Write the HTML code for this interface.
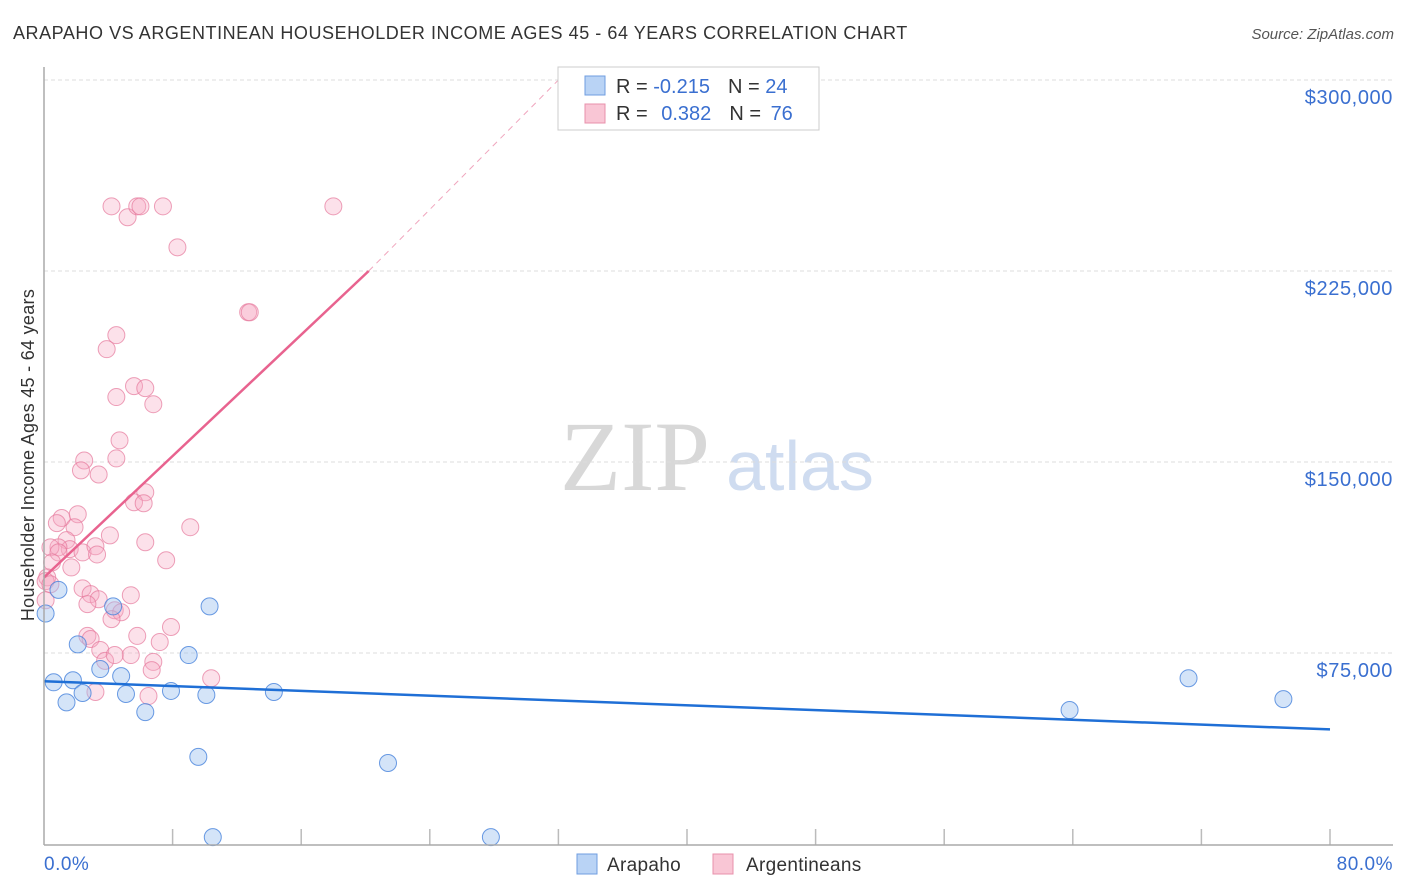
<!DOCTYPE html>
<html><head><meta charset="utf-8"><style>
body{margin:0;background:#fff;font-family:"Liberation Sans",sans-serif;}
#wrap{position:relative;width:1406px;height:892px;overflow:hidden;}
</style></head><body>
<div id="wrap">
<svg id="svg" width="1406" height="892" xmlns="http://www.w3.org/2000/svg">
<text x="13" y="39" font-size="18" letter-spacing="0.55" fill="#333">ARAPAHO VS ARGENTINEAN HOUSEHOLDER INCOME AGES 45 - 64 YEARS CORRELATION CHART</text>
<text x="1394" y="39" font-size="15" fill="#555" text-anchor="end" font-style="italic">Source: ZipAtlas.com</text>
<text x="635" y="490" font-size="100" fill="#d8d8d8" font-family="Liberation Serif,serif" text-anchor="middle">ZIP</text>
<text x="800" y="490" font-size="70" fill="#cfdcf0" text-anchor="middle">atlas</text>
<text transform="translate(34,455) rotate(-90)" font-size="18" letter-spacing="0.3" fill="#333" text-anchor="middle">Householder Income Ages 45 - 64 years</text>
<g id="grid"></g><g id="marks"></g>
<line x1="44" y1="67" x2="44" y2="845" stroke="#aaa" stroke-width="1.5"/>
<line x1="44" y1="845" x2="1393" y2="845" stroke="#aaa" stroke-width="1.5"/>
<text x="44" y="870" font-size="19" letter-spacing="0.5" fill="#3a6fd0">0.0%</text>
<text x="1393" y="870" font-size="19" letter-spacing="0.5" fill="#3a6fd0" text-anchor="end">80.0%</text>
<g>
<rect x="558" y="67" width="261" height="63" fill="#fff" stroke="#ccc"/>
<rect x="585" y="76" width="20" height="19" fill="#b9d3f5" stroke="#6f9ee0"/>
<rect x="585" y="104" width="20" height="19" fill="#f9c6d5" stroke="#e890ab"/>
<text x="616" y="93" font-size="20" fill="#333">R = <tspan fill="#3a6fd0">-0.215</tspan><tspan dx="18">N = </tspan><tspan fill="#3a6fd0">24</tspan></text>
<text x="616" y="120" font-size="20" fill="#333">R = <tspan fill="#3a6fd0" dx="8">0.382</tspan><tspan dx="18">N = </tspan><tspan fill="#3a6fd0" dx="4">76</tspan></text>
</g>
<g>
<rect x="577" y="854" width="20" height="20" fill="#b9d3f5" stroke="#6f9ee0"/>
<text x="607" y="871" font-size="19" letter-spacing="0.3" fill="#333">Arapaho</text>
<rect x="713" y="854" width="20" height="20" fill="#f9c6d5" stroke="#e890ab"/>
<text x="746" y="871" font-size="19" letter-spacing="0.3" fill="#333">Argentineans</text>
</g>
</svg></div>
<script>
const yTicks=[75000,150000,225000,300000];
const yTickLabels=["$75,000","$150,000","$225,000","$300,000"];
const xTicks=[8,16,24,32,40,48,56,64,72,80];
const arapahoX=[0.1,0.6,1.4,1.8,2.1,2.4,3.5,4.3,4.8,5.1,6.3,7.9,9.0,9.6,10.1,10.3,10.5,14.3,21.4,27.8,63.8,71.2,77.1,0.9];
const arapahoY=[90500,63500,55600,64300,78400,59300,68700,93300,65900,58900,51800,60100,74200,34200,58500,93300,2700,59700,31800,2700,52600,65100,56900,99800];
const argX=[4.2,5.2,5.8,6.0,7.4,18.0,8.3,12.7,12.8,4.5,3.9,5.6,6.3,4.5,6.8,4.7,4.5,2.5,2.3,3.4,6.3,5.6,6.2,9.1,1.1,0.8,2.1,1.9,1.4,1.6,0.9,0.4,0.9,2.4,3.2,4.1,3.3,6.3,7.6,0.5,0.2,1.7,0.1,0.4,2.4,2.9,5.4,3.4,2.7,4.4,4.8,4.2,2.7,2.9,5.8,7.9,7.2,3.5,5.4,6.8,3.8,4.4,6.7,3.2,6.5,10.4,0.1];
const argY=[250400,246100,250400,250400,250400,250400,234300,208800,208800,199800,194300,179800,179000,175500,172700,158500,151400,150600,146700,145100,138100,134200,133800,124400,128000,126000,129500,124400,119300,115800,116500,116500,114500,114500,116900,121200,113700,118500,111400,110600,104700,108600,103200,102000,100400,98100,97700,96100,94200,91800,91000,88300,81700,80500,81700,85200,79300,76200,74200,71500,71900,74200,68300,59700,58100,65100,95700];
const trendArg=[[0,104700],[20.2,225000],[32,300000]];
const trendAra=[[0,63900],[80,45000]];
const X=v=>44+v*16.075, Y=v=>844-v/75000*191;
const NS='http://www.w3.org/2000/svg';
const grid=document.getElementById('grid'), marks=document.getElementById('marks');
function mk(tag,attrs,parent){const e=document.createElementNS(NS,tag);for(const k in attrs)e.setAttribute(k,attrs[k]);parent.appendChild(e);return e;}
yTicks.forEach((t,i)=>{
 const l=mk('line',{x1:44,x2:1393,y1:Y(t),y2:Y(t),stroke:'#ddd','stroke-dasharray':'4,3'},grid);
 
 
 const tx=mk('text',{x:1393,y:Y(t)+24,'font-size':20,'letter-spacing':0.6,fill:'#3a6fd0','text-anchor':'end'},grid);
 tx.textContent=yTickLabels[i];
 
 
});
xTicks.forEach(t=>{
 const l=mk('line',{x1:X(t),x2:X(t),y1:829,y2:845,stroke:'#bbb','stroke-width':1.5},grid);
 
 
});
argX.forEach((x,i)=>{
 const c=mk('circle',{cx:X(x),cy:Y(argY[i]),r:8.5,fill:'rgba(246,170,195,0.35)',stroke:'rgba(230,120,155,0.7)','stroke-width':1},marks);
 
 
});
arapahoX.forEach((x,i)=>{
 const c=mk('circle',{cx:X(x),cy:Y(arapahoY[i]),r:8.5,fill:'rgba(160,195,240,0.45)',stroke:'rgba(70,130,220,0.8)','stroke-width':1},marks);
 
 
});
let l1=mk('line',{x1:X(trendArg[0][0]),y1:Y(trendArg[0][1]),x2:X(trendArg[1][0]),y2:Y(trendArg[1][1]),stroke:'#e8638f','stroke-width':2.5},marks);


let l2=mk('line',{x1:X(trendArg[1][0]),y1:Y(trendArg[1][1]),x2:X(trendArg[2][0]),y2:Y(trendArg[2][1]),stroke:'#f0a5bd','stroke-width':1,'stroke-dasharray':'6,5'},marks);


let l3=mk('line',{x1:X(trendAra[0][0]),y1:Y(trendAra[0][1]),x2:X(trendAra[1][0]),y2:Y(trendAra[1][1]),stroke:'#1f6fd6','stroke-width':2.5},marks);


</script>
</body></html>
